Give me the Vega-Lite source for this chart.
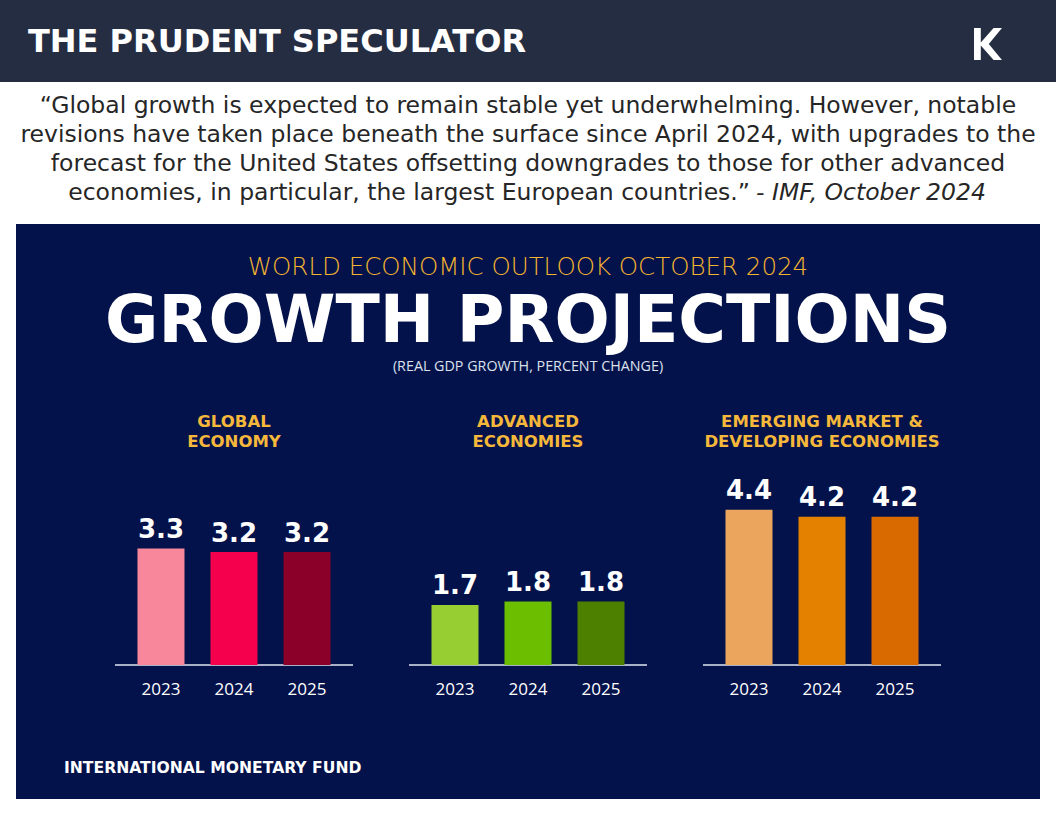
{
  "$schema": "https://vega.github.io/schema/vega-lite/v6.json",
  "padding": 0,
  "background": "white",
  "spacing": 0,
  "center": true,
  "bounds": "flush",
  "config": {"view": {"stroke": null}},
  "datasets": {
    "growth": [
      {"group": "Global", "year": "2023", "value": 3.3, "id": "G2023"},
      {"group": "Global", "year": "2024", "value": 3.2, "id": "G2024"},
      {"group": "Global", "year": "2025", "value": 3.2, "id": "G2025"},
      {"group": "Advanced", "year": "2023", "value": 1.7, "id": "A2023"},
      {"group": "Advanced", "year": "2024", "value": 1.8, "id": "A2024"},
      {"group": "Advanced", "year": "2025", "value": 1.8, "id": "A2025"},
      {"group": "Emerging", "year": "2023", "value": 4.4, "id": "E2023"},
      {"group": "Emerging", "year": "2024", "value": 4.2, "id": "E2024"},
      {"group": "Emerging", "year": "2025", "value": 4.2, "id": "E2025"}
    ],
    "groups": [
      {"group": "Global", "header": "GLOBAL\nECONOMY"},
      {"group": "Advanced", "header": "ADVANCED\nECONOMIES"},
      {"group": "Emerging", "header": "EMERGING MARKET &\nDEVELOPING ECONOMIES"}
    ]
  },
  "vconcat": [
    {
      "width": 1056,
      "height": 82,
      "view": {"fill": "#252d42", "stroke": null},
      "layer": [
        {
          "data": {"values": [{"t": "THE PRUDENT SPECULATOR"}]},
          "mark": {"type": "text", "font": "DejaVu Sans", "fontWeight": "bold", "fontSize": 32, "color": "white", "align": "left", "baseline": "alphabetic"},
          "encoding": {"text": {"field": "t"}, "x": {"value": 28}, "y": {"value": 52}}
        },
        {
          "data": {"values": [{"logo": "K"}]},
          "mark": {"type": "point", "shape": "M-0.875,-1 L-0.45,-1 L-0.45,-0.1 L0.35,-1 L0.875,-1 L0.05,0 L0.875,1 L0.35,1 L-0.45,0.1 L-0.45,1 L-0.875,1 Z", "filled": true, "color": "white", "opacity": 1, "size": 1024},
          "encoding": {"x": {"value": 988}, "y": {"value": 44}}
        }
      ]
    },
    {
      "width": 1056,
      "height": 142,
      "layer": [
        {
          "data": {"values": [{"t": "“Global growth is expected to remain stable yet underwhelming. However, notable\nrevisions have taken place beneath the surface since April 2024, with upgrades to the\nforecast for the United States offsetting downgrades to those for other advanced"}]},
          "mark": {"type": "text", "font": "DejaVu Sans", "fontSize": 23.5, "color": "#262626", "align": "center", "baseline": "alphabetic", "lineBreak": "\n", "lineHeight": 29},
          "encoding": {"text": {"field": "t"}, "x": {"value": 528}, "y": {"value": 31}}
        },
        {
          "data": {"values": [{"t": "economies, in particular, the largest European countries.”"}]},
          "mark": {"type": "text", "font": "DejaVu Sans", "fontSize": 23.5, "color": "#262626", "align": "right", "baseline": "alphabetic"},
          "encoding": {"text": {"field": "t"}, "x": {"value": 750}, "y": {"value": 118}}
        },
        {
          "data": {"values": [{"t": "- IMF, October 2024"}]},
          "mark": {"type": "text", "font": "DejaVu Sans", "fontSize": 23.5, "fontStyle": "italic", "color": "#262626", "align": "left", "baseline": "alphabetic"},
          "encoding": {"text": {"field": "t"}, "x": {"value": 756}, "y": {"value": 118}}
        }
      ]
    },
    {
      "width": 1024,
      "height": 575,
      "view": {"fill": "#03124b", "stroke": null},
      "layer": [
        {
          "data": {"values": [{"t": "WORLD ECONOMIC OUTLOOK OCTOBER 2024"}]},
          "mark": {"type": "text", "font": "DejaVu Sans", "fontWeight": 200, "fontSize": 24.5, "color": "#f5b42f", "align": "center", "baseline": "alphabetic"},
          "encoding": {"text": {"field": "t"}, "x": {"value": 512}, "y": {"value": 51}}
        },
        {
          "data": {"values": [{"t": "GROWTH PROJECTIONS"}]},
          "mark": {"type": "text", "font": "DejaVu Sans", "fontWeight": "bold", "fontSize": 65, "color": "white", "align": "center", "baseline": "alphabetic"},
          "encoding": {"text": {"field": "t"}, "x": {"value": 512}, "y": {"value": 118}}
        },
        {
          "data": {"values": [{"t": "(REAL GDP GROWTH, PERCENT CHANGE)"}]},
          "mark": {"type": "text", "font": "Open Sans", "fontSize": 14.3, "color": "#dde1ec", "align": "center", "baseline": "alphabetic"},
          "encoding": {"text": {"field": "t"}, "x": {"value": 512}, "y": {"value": 147}}
        },
        {
          "data": {"name": "groups"},
          "mark": {"type": "text", "font": "DejaVu Sans", "fontWeight": "bold", "fontSize": 16.5, "color": "#f6b83b", "align": "center", "baseline": "alphabetic", "lineBreak": "\n", "lineHeight": 20},
          "encoding": {
            "x": {"field": "group", "type": "nominal", "scale": {"domain": ["Global", "Advanced", "Emerging"], "paddingInner": 0.1905, "paddingOuter": 0.3367}, "axis": null},
            "y": {"value": 203},
            "text": {"field": "header"}
          }
        },
        {
          "data": {"name": "groups"},
          "mark": {"type": "tick", "thickness": 2, "size": 238, "color": "#a9b1c9", "opacity": 1},
          "encoding": {
            "x": {"field": "group", "type": "nominal", "scale": {"domain": ["Global", "Advanced", "Emerging"], "paddingInner": 0.1905, "paddingOuter": 0.3367}, "axis": null},
            "y": {"datum": 0, "type": "quantitative", "scale": {"domain": [-3.796, 12.493], "nice": false, "zero": false}, "axis": null}
          }
        },
        {
          "data": {"name": "growth"},
          "mark": {"type": "bar"},
          "encoding": {
            "x": {"field": "group", "type": "nominal", "scale": {"domain": ["Global", "Advanced", "Emerging"], "paddingInner": 0.1905, "paddingOuter": 0.3367}, "axis": null},
            "xOffset": {"field": "year", "type": "nominal", "scale": {"domain": ["2023", "2024", "2025"], "paddingInner": 0.356, "paddingOuter": 0.308}},
            "y": {"field": "value", "type": "quantitative", "scale": {"domain": [-3.796, 12.493], "nice": false, "zero": false}, "axis": null},
            "color": {"field": "id", "type": "nominal", "legend": null, "scale": {"domain": ["G2023", "G2024", "G2025", "A2023", "A2024", "A2025", "E2023", "E2024", "E2025"], "range": ["#f8879b", "#f5004d", "#8a0029", "#97cf32", "#6bbf00", "#4e8000", "#eca55c", "#e58100", "#d86a00"]}}
          }
        },
        {
          "data": {"name": "growth"},
          "mark": {"type": "text", "font": "DejaVu Sans", "fontWeight": "bold", "fontSize": 26, "color": "white", "align": "center", "baseline": "alphabetic", "dy": -10.5},
          "encoding": {
            "x": {"field": "group", "type": "nominal", "scale": {"domain": ["Global", "Advanced", "Emerging"], "paddingInner": 0.1905, "paddingOuter": 0.3367}, "axis": null},
            "xOffset": {"field": "year", "type": "nominal", "scale": {"domain": ["2023", "2024", "2025"], "paddingInner": 0.356, "paddingOuter": 0.308}},
            "y": {"field": "value", "type": "quantitative", "scale": {"domain": [-3.796, 12.493], "nice": false, "zero": false}, "axis": null},
            "text": {"field": "value", "type": "quantitative", "format": ".1f"}
          }
        },
        {
          "data": {"name": "growth"},
          "mark": {"type": "text", "font": "Open Sans", "fontSize": 17, "color": "white", "align": "center", "baseline": "middle", "dy": 25},
          "encoding": {
            "x": {"field": "group", "type": "nominal", "scale": {"domain": ["Global", "Advanced", "Emerging"], "paddingInner": 0.1905, "paddingOuter": 0.3367}, "axis": null},
            "xOffset": {"field": "year", "type": "nominal", "scale": {"domain": ["2023", "2024", "2025"], "paddingInner": 0.356, "paddingOuter": 0.308}},
            "y": {"datum": 0, "type": "quantitative", "scale": {"domain": [-3.796, 12.493], "nice": false, "zero": false}, "axis": null},
            "text": {"field": "year"}
          }
        },
        {
          "data": {"values": [{"t": "INTERNATIONAL MONETARY FUND"}]},
          "mark": {"type": "text", "font": "DejaVu Sans", "fontWeight": "bold", "fontSize": 15.6, "color": "white", "align": "left", "baseline": "alphabetic"},
          "encoding": {"text": {"field": "t"}, "x": {"value": 48}, "y": {"value": 549}}
        }
      ]
    }
  ]
}
